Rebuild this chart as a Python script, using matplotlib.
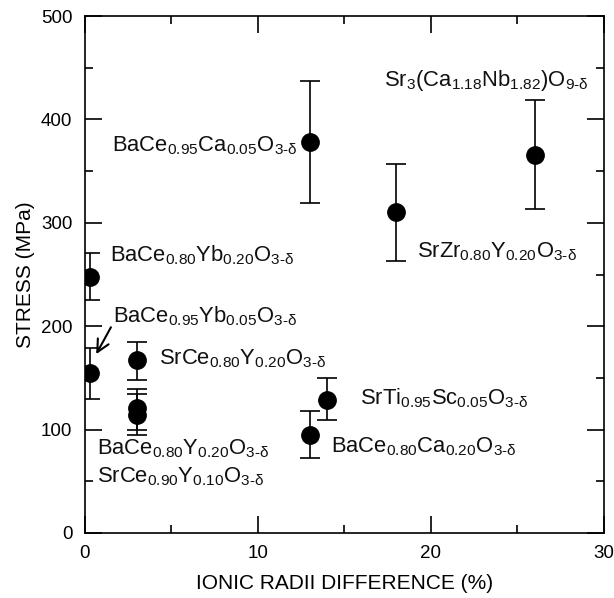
import matplotlib

matplotlib.use("Agg")
import matplotlib.pyplot as plt
import numpy as np

# ionic radii difference (%) and stress (MPa)
radii_diff = [0.3, 0.3, 3.0, 3.0, 3.0, 13.0, 13.0, 14.0, 18.0, 26.0]
stress = [248, 155, 167, 121, 114, 378, 95, 129, 310, 366]
stress_low = [225, 130, 148, 100, 95, 319, 73, 109, 263, 313]
stress_high = [271, 179, 185, 139, 134, 437, 118, 150, 357, 419]

label_texts = [
    r"$\mathregular{BaCe_{0.80}Yb_{0.20}O_{3\text{-}δ}}$",
    r"$\mathregular{BaCe_{0.95}Yb_{0.05}O_{3\text{-}δ}}$",
    r"$\mathregular{SrCe_{0.80}Y_{0.20}O_{3\text{-}δ}}$",
    r"$\mathregular{BaCe_{0.80}Y_{0.20}O_{3\text{-}δ}}$",
    r"$\mathregular{SrCe_{0.90}Y_{0.10}O_{3\text{-}δ}}$",
    r"$\mathregular{BaCe_{0.95}Ca_{0.05}O_{3\text{-}δ}}$",
    r"$\mathregular{BaCe_{0.80}Ca_{0.20}O_{3\text{-}δ}}$",
    r"$\mathregular{SrTi_{0.95}Sc_{0.05}O_{3\text{-}δ}}$",
    r"$\mathregular{SrZr_{0.80}Y_{0.20}O_{3\text{-}δ}}$",
    r"$\mathregular{Sr_{3}(Ca_{1.18}Nb_{1.82})O_{9\text{-}δ}}$",
]
label_x = [1.45, 1.6, 4.3, 0.68, 0.68, 12.3, 14.2, 15.9, 19.2, 17.3]
label_y = [269, 210, 169, 82, 54, 375, 83, 130, 272, 438]
label_ha = ["left", "left", "left", "left", "left", "right", "left", "left", "left", "left"]

arrow_tail = (1.5, 199)
arrow_head = (0.65, 173)

plt.rcParams["font.family"] = ["Liberation Sans", "DejaVu Sans"]
plt.rcParams["mathtext.fontset"] = "custom"
plt.rcParams["mathtext.rm"] = "Liberation Sans"
plt.rcParams["mathtext.it"] = "Liberation Sans"
plt.rcParams["mathtext.bf"] = "Liberation Sans:bold"

fig = plt.figure(figsize=(6.14, 5.98), dpi=100)
ax = fig.add_axes([0.1384, 0.1087, 0.8453, 0.8645])

y = np.array(stress)
yerr = [y - np.array(stress_low), np.array(stress_high) - y]
ax.errorbar(radii_diff, stress, yerr=yerr, fmt="o", color="black", markersize=12.5,
            ecolor="black", elinewidth=1.2, capsize=7, capthick=1.2)

for text, tx, ty, ha in zip(label_texts, label_x, label_y, label_ha):
    ax.text(tx, ty, text, ha=ha, va="center", fontsize=15.8, color="#111111")

ax.annotate("", xy=arrow_head, xytext=arrow_tail,
            arrowprops=dict(arrowstyle="->", color="black", lw=1.5,
                            mutation_scale=22, shrinkA=0, shrinkB=0))

ax.set_xlim(0, 30)
ax.set_ylim(0, 500)
ax.set_xticks([0, 10, 20, 30])
ax.set_xticks([5, 15, 25], minor=True)
ax.set_yticks([0, 100, 200, 300, 400, 500])
ax.set_yticks([50, 150, 250, 350, 450], minor=True)
ax.tick_params(which="both", direction="in", top=True, right=True,
               labelsize=13.5, width=1.2, pad=9)
ax.tick_params(which="major", length=12)
ax.tick_params(which="minor", length=6)
for spine in ax.spines.values():
    spine.set_linewidth(1.2)

ax.set_xlabel("IONIC RADII DIFFERENCE (%)", fontsize=15, labelpad=8)
ax.set_ylabel("STRESS (MPa)", fontsize=15, labelpad=4)

fig.savefig("out.png", dpi=100)
